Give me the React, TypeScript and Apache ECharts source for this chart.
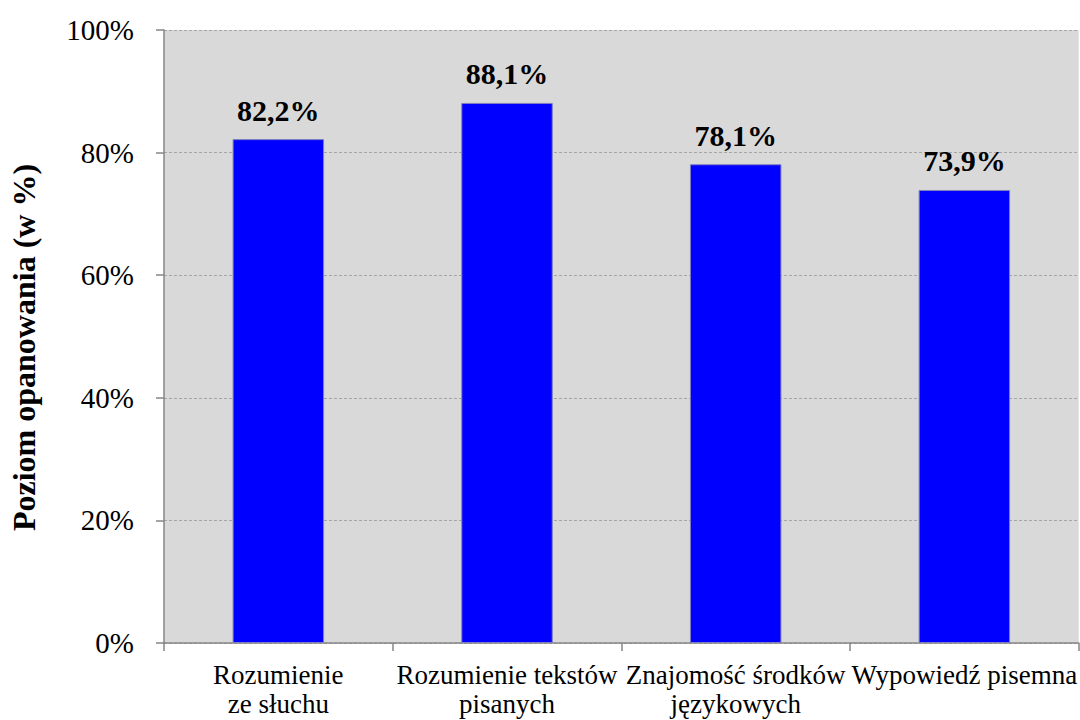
import React, { useEffect, useRef } from "react";
import * as echarts from "echarts";

const categories = [
  "Rozumienie\nze słuchu",
  "Rozumienie tekstów\npisanych",
  "Znajomość środków\njęzykowych",
  "Wypowiedź pisemna",
];
const values = [82.2, 88.1, 78.1, 73.9];
const yTicks = [0, 20, 40, 60, 80, 100];
const yAxisName = "Poziom opanowania (w %)";

export default function App() {
  const ref = useRef<HTMLDivElement>(null);
  useEffect(() => {
    if (!ref.current) return;
    const chart = echarts.init(ref.current, null, { renderer: "svg" });
    const font = "Liberation Serif";
    chart.setOption({
      animation: false,
      grid: {
        left: 164,
        right: 0,
        top: 30,
        bottom: 77,
        show: true,
        backgroundColor: "#d9d9d9",
        borderWidth: 0,
      },
      xAxis: {
        type: "category",
        data: categories,
        axisLine: { show: true, lineStyle: { color: "#868686", width: 1.5 } },
        axisTick: { show: true, length: 8, lineStyle: { color: "#868686", width: 1.5 } },
        axisLabel: {
          color: "#000",
          fontFamily: font,
          fontSize: 27,
          lineHeight: 29,
          margin: 17,
          interval: 0,
        },
      },
      yAxis: {
        type: "value",
        min: 0,
        max: 100,
        interval: 20,
        name: yAxisName,
        nameLocation: "middle",
        nameGap: 124,
        nameTextStyle: {
          color: "#000",
          fontFamily: font,
          fontSize: 32,
          fontWeight: "bold",
          padding: [0, 22, 0, 0],
        },
        axisLine: { show: true, lineStyle: { color: "#868686", width: 1.5 } },
        axisTick: { show: true, length: 8, lineStyle: { color: "#868686", width: 1.5 } },
        axisLabel: {
          color: "#000",
          fontFamily: font,
          fontSize: 29,
          margin: 30,
          formatter: (v: number) => (yTicks.includes(v) ? v + "%" : ""),
        },
        splitLine: {
          show: true,
          lineStyle: { color: "#a6a6a6", type: [3, 2], width: 1 },
        },
      },
      series: [
        {
          type: "bar",
          data: values,
          barWidth: "40%",
          itemStyle: { color: "#0000ff", borderColor: "#7f7fbf", borderWidth: 1 },
          label: {
            show: true,
            position: "top",
            distance: 14,
            color: "#000",
            fontFamily: font,
            fontSize: 30,
            fontWeight: "bold",
            formatter: (p: any) => p.value.toFixed(1).replace(".", ",") + "%",
          },
        },
      ],
    });
    return () => chart.dispose();
  }, []);
  return (
    <div
      ref={ref}
      style={{ position: "absolute", left: 0, top: 0, width: 1080, height: 720, background: "#fff" }}
    />
  );
}
